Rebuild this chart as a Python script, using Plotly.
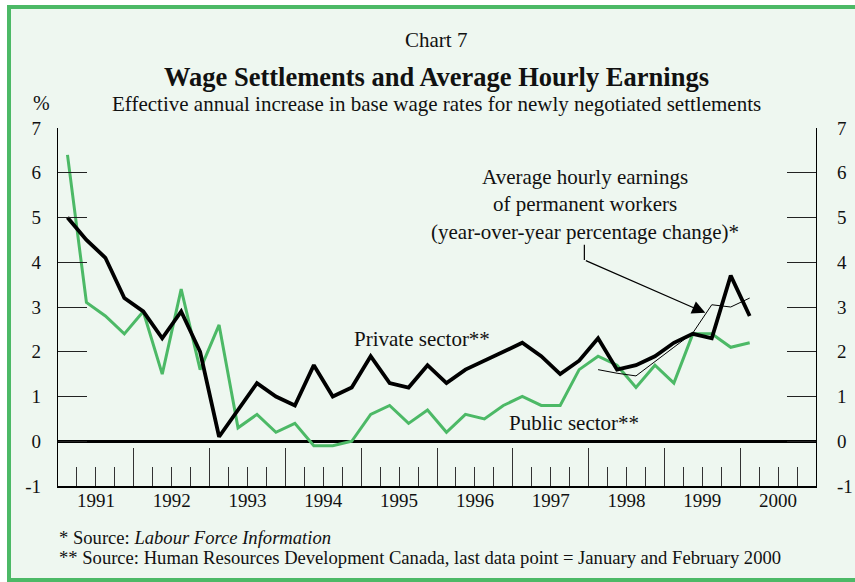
import plotly.graph_objects as go

# ---- data (quarterly, 1991Q1 .. 2000Q1) ----
start_year = 1991
private_sector = [5.0, 4.5, 4.1, 3.2,
                  2.9, 2.3, 2.9, 2.0,
                  0.1, 0.7, 1.3, 1.0,
                  0.8, 1.7, 1.0, 1.2,
                  1.9, 1.3, 1.2, 1.7,
                  1.3, 1.6, 1.8, 2.0,
                  2.2, 1.9, 1.5, 1.8,
                  2.3, 1.6, 1.7, 1.9,
                  2.2, 2.4, 2.3, 3.7,
                  2.8]
public_sector = [6.4, 3.1, 2.8, 2.4,
                 2.9, 1.5, 3.4, 1.6,
                 2.6, 0.3, 0.6, 0.2,
                 0.4, -0.1, -0.1, 0.0,
                 0.6, 0.8, 0.4, 0.7,
                 0.2, 0.6, 0.5, 0.8,
                 1.0, 0.8, 0.8, 1.6,
                 1.9, 1.7, 1.2, 1.7,
                 1.3, 2.4, 2.4, 2.1,
                 2.2]
earnings_start = 28  # index of 1998Q1
avg_hourly_earnings = [1.6, 1.52, 1.46, 1.77, 2.1, 2.42, 3.05, 3.0, 3.2]

year_labels = ["1991", "1992", "1993", "1994", "1995",
               "1996", "1997", "1998", "1999", "2000"]
y_ticks = [-1, 0, 1, 2, 3, 4, 5, 6, 7]
y_tick_text = ["-1", "0", "1", "2", "3", "4", "5", "6", "7"]

# quarter-centre positions on a decimal-year axis
def qx(i):
    return start_year + (i + 0.5) / 4.0

x_all = [qx(i) for i in range(len(private_sector))]
x_earn = [qx(earnings_start + i) for i in range(len(avg_hourly_earnings))]
year_centres = [int(y) + 0.5 for y in year_labels]

GREEN = "#4CB966"
BG = "#EEF7F0"
FONT = "Liberation Serif"
INK = "#111111"

fig = go.Figure()
fig.add_trace(go.Scatter(x=x_all, y=public_sector, mode="lines",
                         line=dict(color=GREEN, width=3), hoverinfo="skip"))
fig.add_trace(go.Scatter(x=x_earn, y=avg_hourly_earnings, mode="lines",
                         line=dict(color="#000000", width=1), hoverinfo="skip"))
fig.add_trace(go.Scatter(x=x_all, y=private_sector, mode="lines",
                         line=dict(color="#000000", width=3.8), hoverinfo="skip"))
# dummy trace to activate the secondary axes
fig.add_trace(go.Scatter(x=[None], y=[None], xaxis="x2", yaxis="y2",
                         mode="lines", hoverinfo="skip"))

W, H = 855, 582
L, R, T, B = 58, 39, 128, 96
pw, ph = W - L - R, H - T - B

def px(x):
    return (x - L) / pw

def py(y):
    return (H - B - y) / ph

axis_common = dict(showgrid=False, zeroline=False)
tick_font = dict(family=FONT, size=19, color=INK)

fig.update_layout(
    width=W, height=H,
    margin=dict(l=L, r=R, t=T, b=B, autoexpand=False),
    paper_bgcolor="white",
    plot_bgcolor=BG,
    showlegend=False,
    font=dict(family=FONT, size=19, color=INK),
    xaxis=dict(range=[1991, 2001], tickmode="linear", tick0=1991, dtick=1,
               ticks="inside", ticklen=38, tickwidth=1, tickcolor="#333333",
               showticklabels=False, showline=True, linecolor="#000000",
               linewidth=1.5, **axis_common,
               minor=dict(tickmode="linear", tick0=1991, dtick=0.25,
                          ticks="inside", ticklen=19, tickwidth=1,
                          tickcolor="#333333")),
    xaxis2=dict(range=[1991, 2001], overlaying="x", side="bottom",
                tickmode="array", tickvals=year_centres, ticktext=year_labels,
                ticks="", showline=False, ticklabelstandoff=1,
                tickfont=tick_font, **axis_common),
    yaxis=dict(range=[-1, 7], tickmode="array", tickvals=y_ticks,
               ticktext=y_tick_text,
               ticks="inside", ticklen=29, tickwidth=1.2, tickcolor="#222222",
               showline=True, linecolor="#000000", linewidth=1.3,
               showgrid=False, zeroline=True, zerolinecolor="#000000",
               zerolinewidth=2.5, ticklabelstandoff=12,
               tickfont=tick_font),
    yaxis2=dict(range=[-1, 7], overlaying="y", side="right",
                tickmode="array", tickvals=y_ticks, ticktext=y_tick_text,
                ticks="inside", ticklen=29, tickwidth=1.2, tickcolor="#222222",
                showline=True, linecolor="#000000", linewidth=1.3,
                ticklabelstandoff=16, tickfont=tick_font, **axis_common),
)

# frame: mint panel plus green borders on top, left and bottom
fig.add_shape(type="rect", xref="paper", yref="paper", layer="below",
              x0=px(9), x1=px(855), y0=py(580), y1=py(7),
              fillcolor=BG, line=dict(width=0))
for (xa, ya, xb, yb) in [(7, 7, 855, 7), (9, 5, 9, 582), (7, 580, 855, 580)]:
    fig.add_shape(type="line", xref="paper", yref="paper", layer="below",
                  x0=px(xa), y0=py(ya), x1=px(xb), y1=py(yb),
                  line=dict(color=GREEN, width=4))

ann = []
def text(x, y, s, size=21, xanchor="center", xref="paper", yref="paper", **kw):
    ann.append(dict(x=x, y=y, xref=xref, yref=yref, text=s, showarrow=False,
                    xanchor=xanchor, yanchor="middle",
                    font=dict(family=FONT, size=size, color=INK), **kw))

text(px(436), py(40), "Chart 7", size=21)
text(px(436), py(77), "<b>Wage Settlements and Average Hourly Earnings</b>", size=26.5)
text(px(436), py(104), "Effective annual increase in base wage rates for newly negotiated settlements", size=21)
text(px(41), py(103), "%", size=20)
text(px(57), py(537), "* Source: <i>Labour Force Information</i>", size=18.6, xanchor="left")
text(px(57), py(557), "** Source: Human Resources Development Canada, last data point = January and February 2000",
     size=18.6, xanchor="left")

# in-plot labels (data coordinates)
text(1995.80, 2.28, "Private sector**", xref="x", yref="y")
text(1997.81, 0.41, "Public sector**", xref="x", yref="y")
text(1997.95, 5.28, "Average hourly earnings<br>of permanent workers<br>(year-over-year percentage change)*",
     xref="x", yref="y")

# arrow pointing to the earnings line
ann.append(dict(x=1999.54, y=2.87, ax=1997.944, ay=4.05, xref="x", yref="y",
                axref="x", ayref="y", showarrow=True, arrowhead=2,
                arrowsize=2.2, arrowwidth=1.2, arrowcolor="#000000", text=""))
fig.update_layout(annotations=ann)
fig.add_shape(type="line", xref="x", yref="y", x0=1997.944, x1=1997.944,
              y0=4.05, y1=4.39, line=dict(color="#000000", width=1.2))

fig.write_html("out.html", config={"displayModeBar": False},
               post_script="document.body.style.margin='0';")
